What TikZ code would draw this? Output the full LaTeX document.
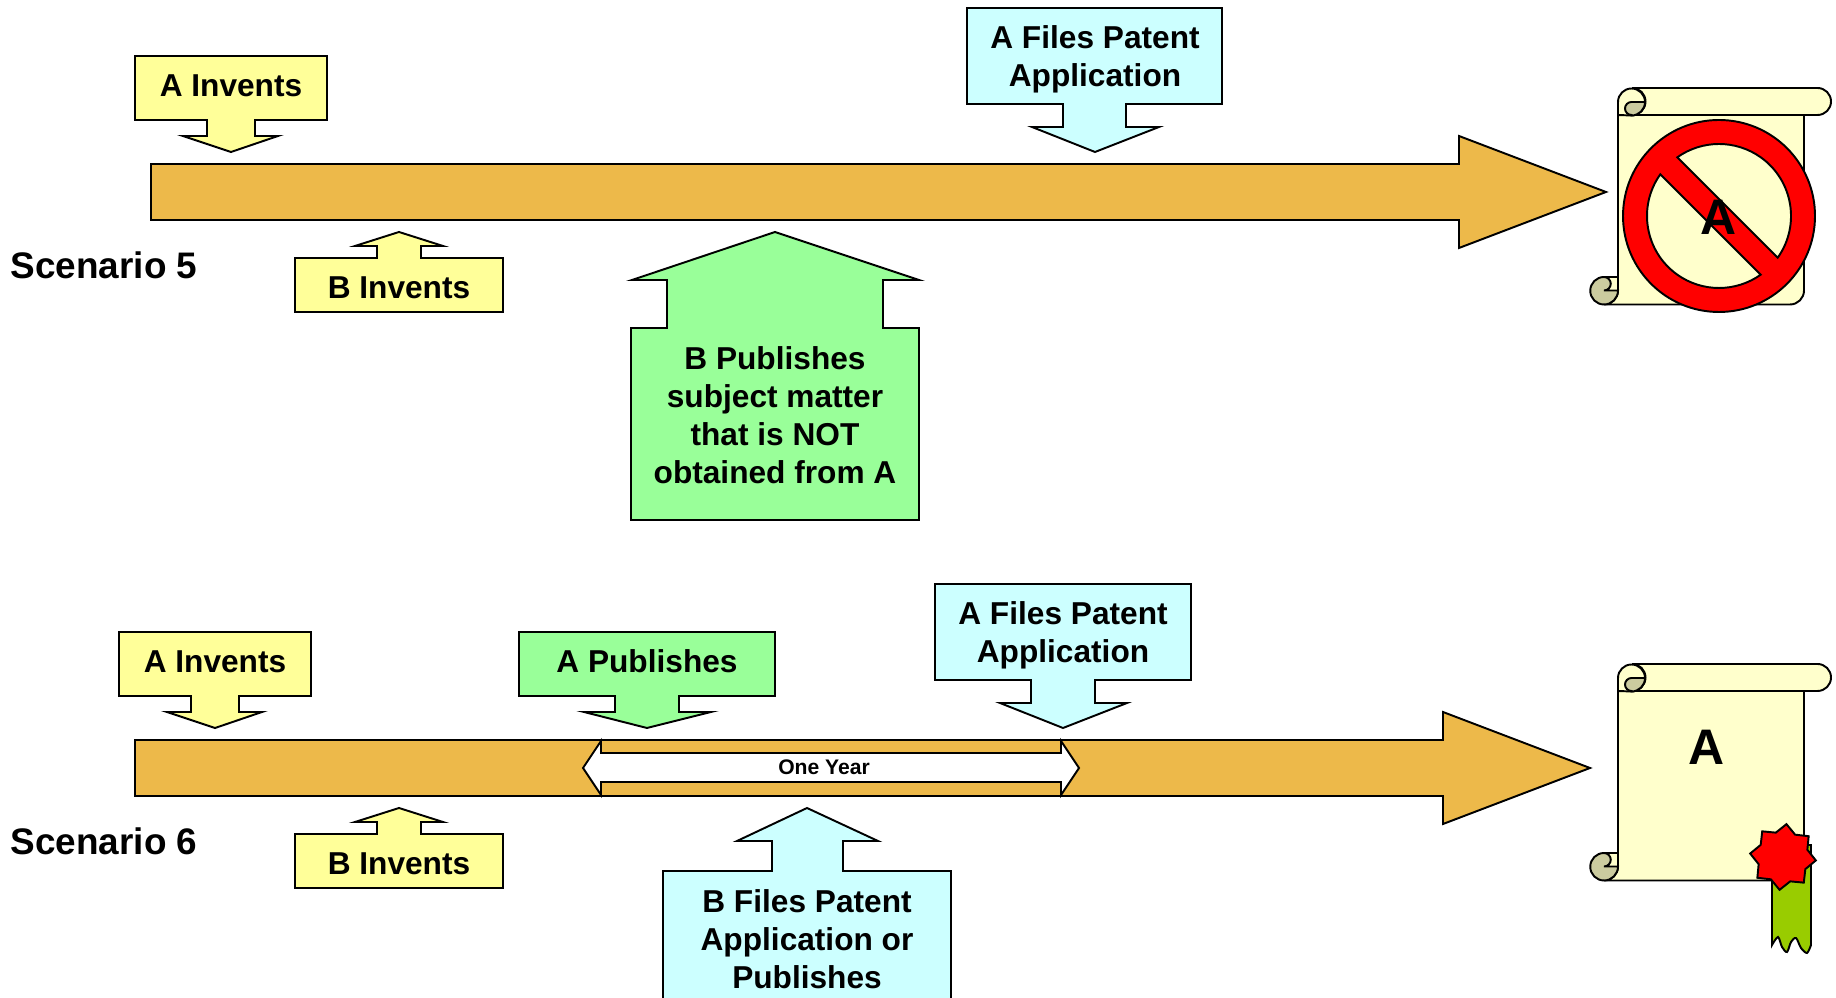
\documentclass[tikz,border=0pt]{standalone}
\usepackage{fontspec}
\setmainfont{Liberation Sans}
\usetikzlibrary{shapes.geometric}
\definecolor{barorange}{HTML}{EDB94A}
\definecolor{boxyellow}{HTML}{FFFF99}
\definecolor{boxcyan}{HTML}{CCFFFF}
\definecolor{boxgreen}{HTML}{99FF99}
\definecolor{paper}{HTML}{FFFFCC}
\definecolor{curl}{HTML}{CBCB9F}
\definecolor{ribbon}{HTML}{99CC00}
\tikzset{
  outline/.style={draw=black, line width=0.55pt, line join=miter},
  label/.style={font=\fontsize{9}{10.8}\selectfont\bfseries, align=center},
  scenario/.style={font=\fontsize{10.5}{12}\selectfont\bfseries, anchor=west, inner sep=0pt},
  bigletter/.style={font=\fontsize{14.2}{16}\selectfont\bfseries},
}
% Scroll, moved down by #1
\newcommand{\drawscroll}[1]{
  \begin{scope}[shift={(0,#1)}]
    \draw[outline, fill=paper] (1618,-102) -- (1618,-290.5) arc (0:-90:14) -- (1790,-304.5) arc (-90:0:14) -- (1804,-115) -- (1632,-115) -- cycle;
    \draw[outline, fill=paper] (1632,-88) -- (1817.5,-88) arc (90:-90:13.5) -- (1632,-115) arc (-90:90:13.5);
    \draw[outline, fill=paper] (1618,-102) arc (180:0:13.5) arc (0:-90:13.5) -- (1618,-115) -- cycle;
    \draw[outline, fill=curl] (1631.5,-115) arc (270:90:6.5) -- (1645,-102) arc (0:-90:13.5) -- cycle;
    \draw[outline, fill=paper] (1604,-277) -- (1618,-277) -- (1618,-290.5) -- (1604,-290.5) -- cycle;
    \draw[outline, fill=curl] (1604,-304.5) arc (270:90:13.75) arc (90:-90:6.75) -- (1618,-290.5) arc (0:-90:14) -- cycle;
  \end{scope}
}
\begin{document}
\begin{tikzpicture}[x=0.01cm, y=0.01cm]
  \useasboundingbox (0,0) rectangle (1836,-998);

  % Scenario 5
  \draw[outline, fill=barorange] (151,-164) -- (1459,-164) -- (1459,-136) -- (1606,-192) -- (1459,-248) -- (1459,-220) -- (151,-220) -- cycle;
  \draw[outline, fill=boxyellow] (135,-56) -- (327,-56) -- (327,-120) -- (255,-120) -- (255,-136) -- (278,-136) -- (231,-152) -- (183,-136) -- (207,-136) -- (207,-120) -- (135,-120) -- cycle;
  \draw[outline, fill=boxcyan] (967,-8) -- (1222,-8) -- (1222,-104) -- (1126,-104) -- (1126,-127) -- (1159,-127) -- (1095,-152) -- (1032,-127) -- (1063,-127) -- (1063,-104) -- (967,-104) -- cycle;
  \draw[outline, fill=boxyellow] (295,-312) -- (503,-312) -- (503,-258) -- (421,-258) -- (421,-246) -- (443,-246) -- (399,-232) -- (355,-246) -- (377,-246) -- (377,-258) -- (295,-258) -- cycle;
  \draw[outline, fill=boxgreen] (631,-520) -- (919,-520) -- (919,-328) -- (883,-328) -- (883,-280) -- (919,-280) -- (775,-232) -- (632,-280) -- (667,-280) -- (667,-328) -- (631,-328) -- cycle;

  \node[label] (ainventsfive) at (231,-86) {A Invents};
  \node[label] (afilesfive) at (1095,-59) {A Files Patent\\Application};
  \node[label] (binventsfive) at (399,-288) {B Invents};
  \node[label] (bpublishes) at (775,-415) {B Publishes\\subject matter\\that is NOT\\obtained from A};
  \node[scenario] (scenariofive) at (10,-265) {Scenario 5};

  % Rejected patent
  \drawscroll{0}
  \begin{scope}[shift={(1719,-216)}]
    \draw[outline, fill=red, even odd rule] (0,0) circle (96)
      (-35.4:72) arc (-35.4:125.4:72) -- cycle
      (144.6:72) arc (144.6:305.4:72) -- cycle;
  \end{scope}
  \node[bigletter] (rejected) at (1719,-217) {A};

  % Scenario 6
  \draw[outline, fill=barorange] (135,-740) -- (1443,-740) -- (1443,-712) -- (1590,-768) -- (1443,-824) -- (1443,-796) -- (135,-796) -- cycle;
  \draw[outline, fill=white] (583,-768) -- (601,-741) -- (601,-753) -- (1061,-753) -- (1061,-741) -- (1079,-768) -- (1061,-795) -- (1061,-782) -- (601,-782) -- (601,-795) -- cycle;
  \draw[outline, fill=boxyellow] (119,-632) -- (311,-632) -- (311,-696) -- (239,-696) -- (239,-712) -- (262,-712) -- (215,-728) -- (167,-712) -- (191,-712) -- (191,-696) -- (119,-696) -- cycle;
  \draw[outline, fill=boxgreen] (519,-632) -- (775,-632) -- (775,-696) -- (679,-696) -- (679,-712) -- (711,-712) -- (647,-728) -- (584,-712) -- (615,-712) -- (615,-696) -- (519,-696) -- cycle;
  \draw[outline, fill=boxcyan] (935,-584) -- (1191,-584) -- (1191,-680) -- (1095,-680) -- (1095,-703) -- (1127,-703) -- (1063,-728) -- (1000,-703) -- (1031,-703) -- (1031,-680) -- (935,-680) -- cycle;
  \draw[outline, fill=boxyellow] (295,-888) -- (503,-888) -- (503,-834) -- (421,-834) -- (421,-822) -- (443,-822) -- (399,-808) -- (355,-822) -- (377,-822) -- (377,-834) -- (295,-834) -- cycle;
  \draw[outline, fill=boxcyan] (663,-1010) -- (951,-1010) -- (951,-871) -- (843,-871) -- (843,-841) -- (878,-841) -- (807,-808) -- (737,-841) -- (772,-841) -- (772,-871) -- (663,-871) -- cycle;

  \node[font=\fontsize{6}{8}\selectfont\bfseries] (oneyear) at (824,-767) {One Year};
  \node[label] (ainventssix) at (215,-662) {A Invents};
  \node[label] (apublishes) at (647,-661) {A Publishes};
  \node[label] (afilessix) at (1063,-635) {A Files Patent\\Application};
  \node[label] (binventssix) at (399,-864) {B Invents};
  \node[label] (bfiles) at (807,-939) {B Files Patent\\Application or\\Publishes};
  \node[scenario] (scenariosix) at (10,-841) {Scenario 6};

  % Granted patent
  \drawscroll{-576}
  \node[bigletter] (granted) at (1707,-747) {A};
  \draw[outline, fill=ribbon] (1772,-845) -- (1811,-845) -- plot[smooth] coordinates {(1811,-945) (1807,-953) (1801,-948) (1796,-938) (1791,-942) (1787,-952) (1782,-947) (1778,-937) (1772,-945)} -- cycle;
  \node[outline, fill=red, star, star points=8, star point ratio=1.3, minimum size=0.66cm, inner sep=0pt, shape border rotate=-6] (seal) at (1783,-857) {};
\end{tikzpicture}
\end{document}
